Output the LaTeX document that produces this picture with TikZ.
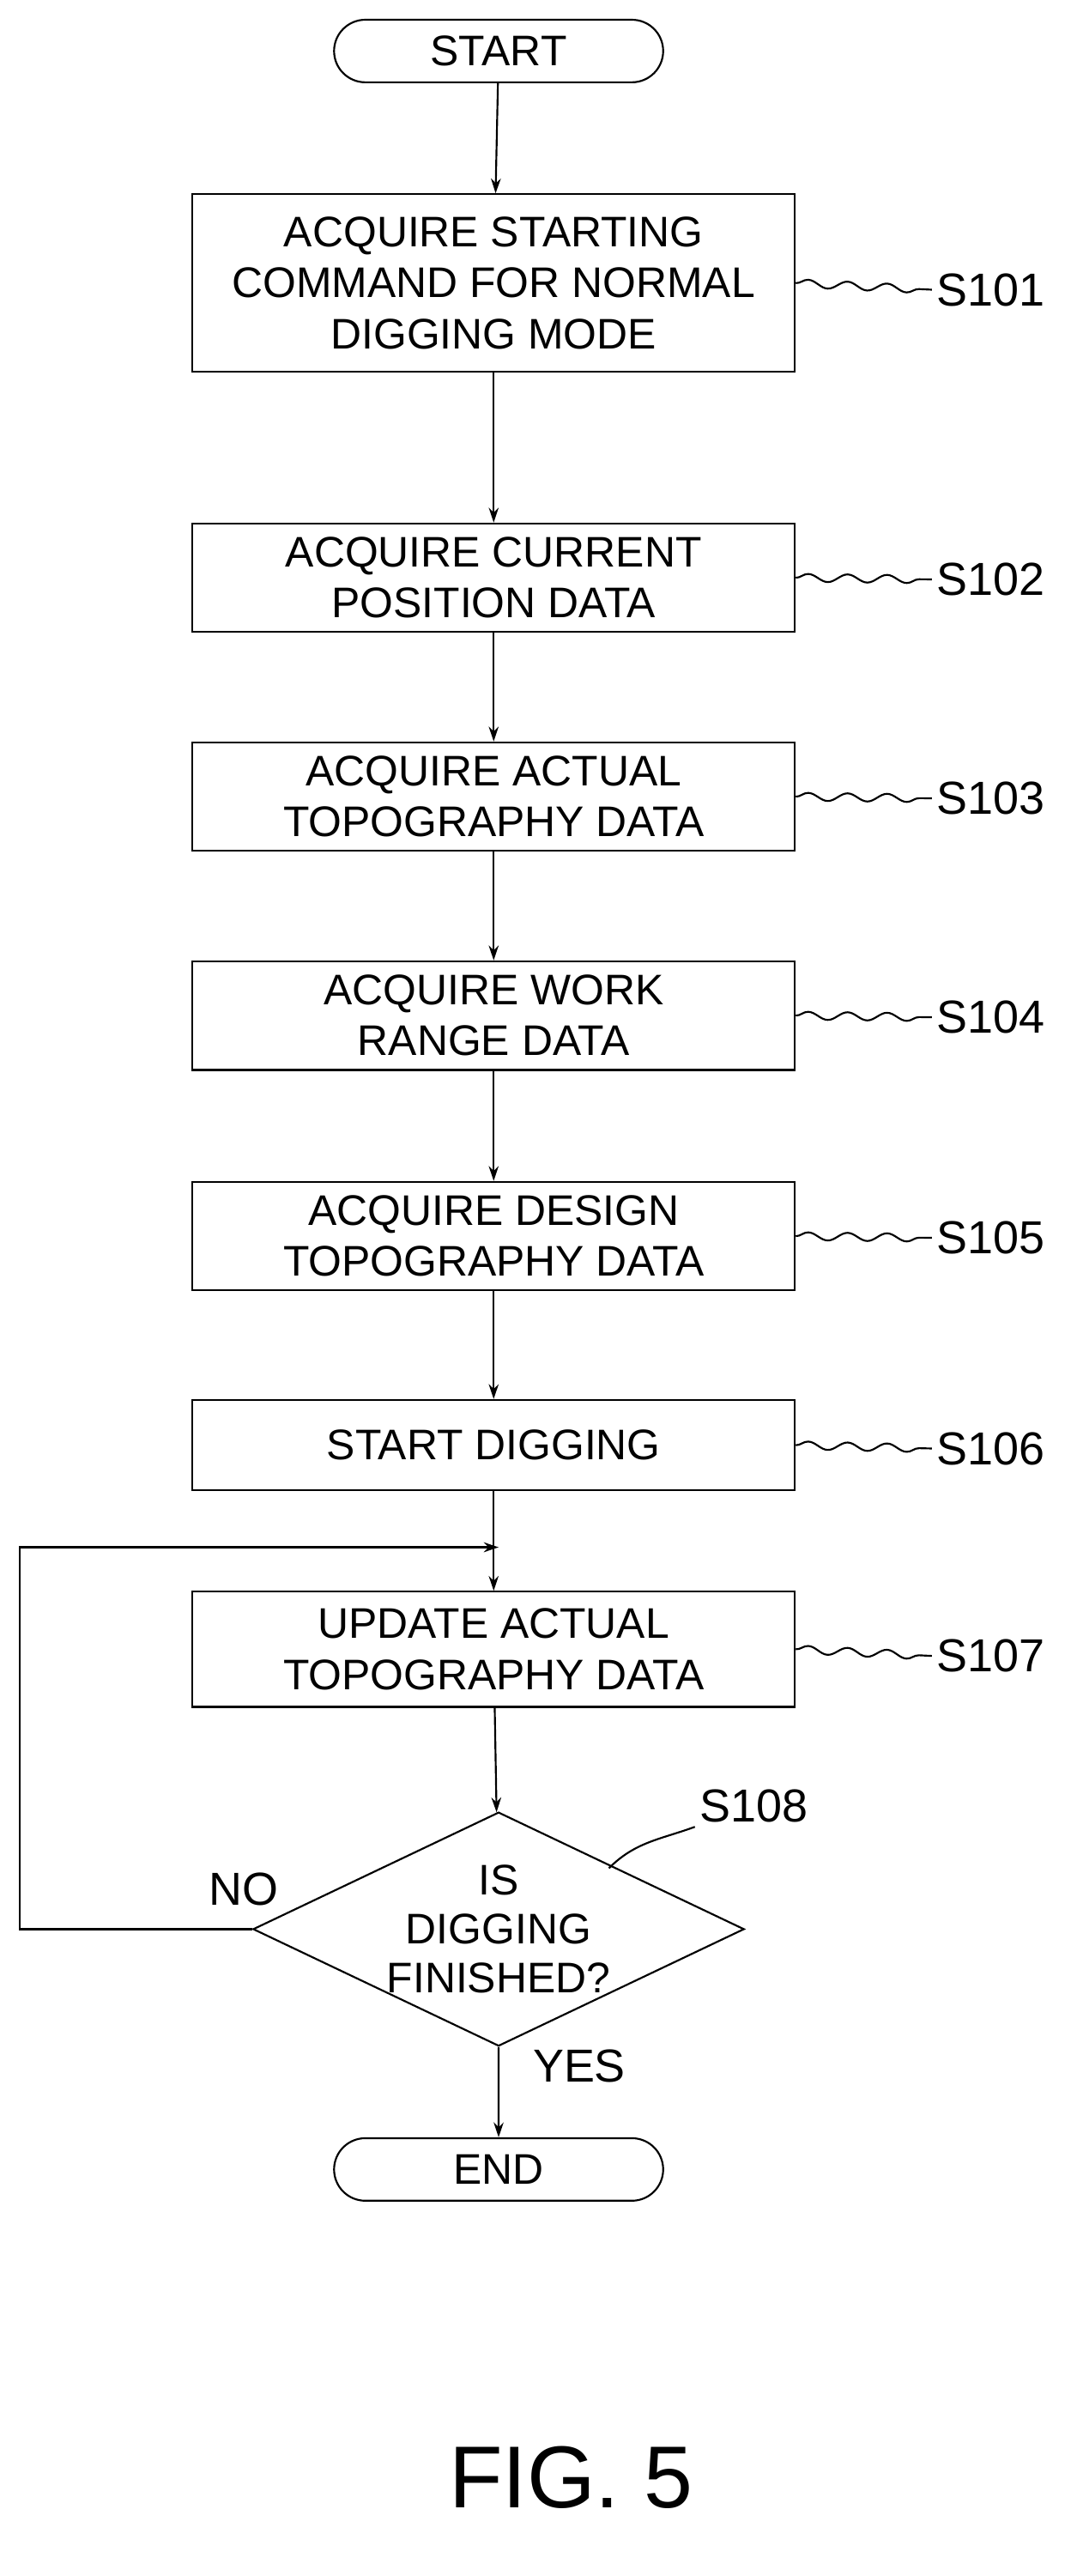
\documentclass[tikz,border=0pt]{standalone}
\usepackage{fontspec}
\setmainfont{Liberation Sans}
\usetikzlibrary{shapes.geometric,shapes.misc,arrows.meta,decorations.pathmorphing}
\begin{document}
\begin{tikzpicture}[x=0.05cm,y=-0.05cm,line width=1.6pt,
    box/.style={draw, align=center, minimum width=18.3cm, inner sep=0pt,
        font=\fontsize{37}{44}\selectfont},
    term/.style={draw, rounded rectangle, minimum width=10cm, minimum height=1.9cm,
        inner sep=0pt, font=\fontsize{37}{44}\selectfont},
    steplabel/.style={font=\fontsize{40}{46}\selectfont},
    wave/.style={decorate, decoration={snake, amplitude=0.12cm, segment length=1.2cm}},
    arr/.style={-{Stealth[length=0.45cm,width=0.3cm]}}]
    \useasboundingbox (0,0) rectangle (654,1565);
    \node[term] (start) at (303,31) {START};
    \node[box, minimum height=5.4cm] (1) at (300,172) {ACQUIRE STARTING\\COMMAND FOR NORMAL\\DIGGING MODE};
    \node[box, minimum height=3.3cm] (2) at (300,351) {ACQUIRE CURRENT\\POSITION DATA};
    \node[box, minimum height=3.3cm] (3) at (300,484) {ACQUIRE ACTUAL\\TOPOGRAPHY DATA};
    \node[box, minimum height=3.3cm] (4) at (300,617) {ACQUIRE WORK\\RANGE DATA};
    \node[box, minimum height=3.3cm] (5) at (300,751) {ACQUIRE DESIGN\\TOPOGRAPHY DATA};
    \node[box, minimum height=2.75cm] (6) at (300,878) {START DIGGING};
    \node[box, minimum height=3.5cm] (7) at (300,1002) {UPDATE ACTUAL\\TOPOGRAPHY DATA};
    \node[draw, diamond, aspect=2.1, minimum width=14.3cm, minimum height=6.8cm,
        inner sep=0pt, align=center, font=\fontsize{37}{42}\selectfont] (8) at (303,1172) {IS\\DIGGING\\FINISHED?};
    \node[term] (end) at (303,1318) {END};
    \coordinate (merge) at (303,940);
    \coordinate (loopa) at (12,1172);
    \coordinate (loopb) at (12,940);

    \node[steplabel] (l1) at (602,176) {S101};
    \node[steplabel] (l2) at (602,352) {S102};
    \node[steplabel] (l3) at (602,485) {S103};
    \node[steplabel] (l4) at (602,618) {S104};
    \node[steplabel] (l5) at (602,752) {S105};
    \node[steplabel] (l6) at (602,880) {S106};
    \node[steplabel] (l7) at (602,1006) {S107};
    \node[steplabel] (l8) at (458,1097) {S108};
    \node[steplabel] (no) at (148,1148) {NO};
    \node[steplabel] (yes) at (352,1255) {YES};
    \node[font=\fontsize{76}{84}\selectfont] (fig) at (347,1505) {FIG. 5};

    \path[draw,arr] (start) -- (1);
    \path[draw,arr] (1) -- (2);
    \path[draw,arr] (2) -- (3);
    \path[draw,arr] (3) -- (4);
    \path[draw,arr] (4) -- (5);
    \path[draw,arr] (5) -- (6);
    \path[draw,arr] (6) -- (7);
    \path[draw,arr] (7) -- (8);
    \path[draw,arr] (8) -- (end);
    \path[draw,arr] (8.west) -- (loopa) -- (loopb) -- (merge);

    \foreach \i in {1,...,7} {
        \path[draw,wave] (\i.east) -- (l\i.west);
    }
    \path[draw] (l8.south west) to[out=200,in=45] (370,1135);
\end{tikzpicture}
\end{document}
